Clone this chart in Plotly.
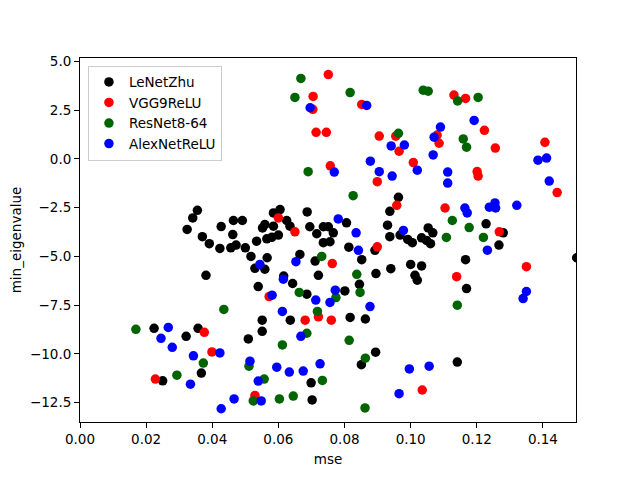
import plotly.graph_objects as go

# values (mse vs min_eigenvalue)
lenet_mse = [0.0355, 0.0341, 0.0324, 0.0370, 0.0391, 0.0423, 0.0456, 0.0472, 0.0462, 0.0427,
             0.0464, 0.0491, 0.0500, 0.0517, 0.0534, 0.0552, 0.0559, 0.0585, 0.0565, 0.0580,
             0.0600, 0.0585, 0.0605, 0.0625, 0.0635, 0.0566, 0.0529, 0.0559, 0.0381, 0.0539,
             0.0643, 0.0665, 0.0687, 0.0806, 0.0695, 0.0736, 0.0751, 0.0716, 0.0766, 0.0736,
             0.0756, 0.0813, 0.0892, 0.0963, 0.0937, 0.0930, 0.0937, 0.0968, 0.0991, 0.1005,
             0.0711, 0.0852, 0.0721, 0.0895, 0.0940, 0.1000, 0.0845, 0.0801, 0.0616, 0.0686,
             0.0551, 0.0636, 0.0551, 0.0509, 0.0817, 0.0863, 0.0894, 0.0851, 0.0699, 0.0702,
             0.0321, 0.0357, 0.0224, 0.0367, 0.0250, 0.1053, 0.1067, 0.1033, 0.1048, 0.1060,
             0.1228, 0.1280, 0.1267, 0.1166, 0.1033, 0.1013, 0.1020, 0.1169, 0.1502, 0.1141]
lenet_eig = [-2.64, -3.03, -3.62, -3.99, -4.35, -4.59, -4.56, -4.42, -3.88, -3.47,
             -3.16, -3.16, -4.56, -5.00, -4.22, -3.54, -3.37, -3.45, -4.10, -4.02,
             -3.91, -2.77, -2.60, -3.16, -3.45, -5.07, -5.61, -5.66, -5.97, -6.55,
             -6.39, -4.90, -2.72, -3.28, -3.48, -3.48, -3.48, -3.84, -3.79, -4.30,
             -4.25, -4.53, -4.69, -1.97, -2.69, -3.40, -3.99, -3.91, -4.13, -4.30,
             -5.24, -5.17, -5.97, -5.88, -5.63, -5.41, -6.43, -6.77, -6.01, -6.94,
             -8.27, -8.27, -8.84, -9.23, -8.13, -8.21, -9.91, -10.55, -11.48, -12.36,
             -9.10, -8.69, -8.69, -10.98, -11.38, -3.54, -3.79, -4.05, -4.18, -4.35,
             -3.33, -3.79, -4.42, -5.17, -5.49, -5.97, -6.22, -6.65, -5.07, -10.42]

vgg_mse = [0.0751, 0.0705, 0.0704, 0.0852, 0.0714, 0.0745, 0.0757, 0.0905, 0.0955, 0.0965,
           0.1008, 0.0899, 0.0958, 0.0600, 0.0650, 0.0899, 0.1131, 0.1166, 0.1223, 0.1080,
           0.1086, 0.1256, 0.1406, 0.1443, 0.1201, 0.1204, 0.1104, 0.1268, 0.1139, 0.1350,
           0.1035, 0.0572, 0.0763, 0.0721, 0.0681, 0.0760, 0.0376, 0.0399, 0.0228, 0.0529]
vgg_eig = [4.32, 3.20, 2.54, 2.79, 1.36, 1.36, -0.36, 1.17, 1.16, 0.39,
           -0.19, -1.17, -2.38, -3.03, -3.74, -4.51, 3.27, 3.10, 1.46, 1.22,
           0.80, 0.55, 0.85, -1.73, -0.65, -0.88, -2.52, -3.74, -6.04, -5.53,
           -11.85, -7.06, -5.37, -8.10, -8.27, -8.27, -8.89, -9.90, -11.29, -12.13]

resnet_mse = [0.0668, 0.0650, 0.0817, 0.0690, 0.0963, 0.0826, 0.1038, 0.1053, 0.1142, 0.1204,
              0.1159, 0.1169, 0.1126, 0.1177, 0.1108, 0.1220, 0.1141, 0.0731, 0.0837, 0.0847,
              0.0663, 0.0774, 0.0718, 0.0686, 0.0612, 0.0814, 0.0863, 0.0511, 0.0557, 0.0733,
              0.0524, 0.0603, 0.0645, 0.0862, 0.0435, 0.0169, 0.0373, 0.0293]
resnet_eig = [4.12, 3.15, 3.40, -0.66, 1.31, -1.89, 3.52, 3.47, 2.97, 3.15,
              1.02, 0.60, -3.16, -3.52, -4.03, -4.03, -7.50, -5.00, -5.92, -6.85,
              -6.85, -7.11, -7.82, -8.94, -9.54, -9.30, -10.22, -10.63, -11.29, -11.36,
              -12.41, -12.31, -12.16, -12.77, -7.72, -8.74, -10.47, -11.09]

alex_mse = [0.0696, 0.0867, 0.0769, 0.0941, 0.0981, 0.0878, 0.0905, 0.0944, 0.1020, 0.1192,
            0.1090, 0.1071, 0.1068, 0.1385, 0.1411, 0.1419, 0.1112, 0.1112, 0.1164, 0.1171,
            0.1238, 0.1255, 0.1257, 0.1321, 0.1232, 0.0978, 0.0781, 0.0835, 0.0842, 0.0544,
            0.0653, 0.0615, 0.0581, 0.0713, 0.0772, 0.0756, 0.0877, 0.0612, 0.0668, 0.0514,
            0.0595, 0.0633, 0.0675, 0.0726, 0.0539, 0.0548, 0.0466, 0.0427, 0.0996, 0.0965,
            0.1056, 0.1350, 0.1340, 0.0267, 0.0245, 0.0279, 0.0343, 0.0423, 0.0334]
alex_eig = [2.62, 2.74, -0.68, 0.66, 0.71, -0.12, -0.66, -0.88, -0.58, 1.97,
            1.63, 1.11, 0.20, -0.07, 0.04, -1.14, -0.68, -1.24, -2.52, -2.77,
            -2.48, -2.26, -2.52, -2.38, -4.68, -3.67, -3.08, -3.79, -4.69, -5.41,
            -5.27, -6.17, -6.99, -7.24, -6.73, -7.36, -7.57, -7.82, -9.10, -10.37,
            -10.68, -10.93, -10.88, -10.51, -11.39, -12.41, -12.31, -12.81, -10.77, -12.04,
            -10.63, -6.80, -7.16, -8.64, -9.20, -9.66, -10.10, -9.95, -11.55]

series = [
    ('LeNetZhu', lenet_mse, lenet_eig, 'black'),
    ('VGG9ReLU', vgg_mse, vgg_eig, 'red'),
    ('ResNet8-64', resnet_mse, resnet_eig, 'darkgreen'),
    ('AlexNetReLU', alex_mse, alex_eig, 'blue'),
]

x_ticks = [0.00, 0.02, 0.04, 0.06, 0.08, 0.10, 0.12, 0.14]
y_ticks = [5.0, 2.5, 0.0, -2.5, -5.0, -7.5, -10.0, -12.5]

fig = go.Figure()
for name, xs, ys, color in series:
    fig.add_trace(go.Scatter(
        x=xs, y=ys, mode='markers', name=name,
        marker=dict(color=color, size=9.5, line=dict(width=0)),
    ))

axis_common = dict(
    showline=True, linecolor='black', linewidth=1, mirror=True,
    ticks='outside', ticklen=5, tickwidth=1, tickcolor='black',
    showgrid=False, zeroline=False, automargin=False,
    tickfont=dict(size=13.5, color='black'),
)

# page body has an 8px margin, so the figure is 8px smaller and margins shifted
fig.update_layout(
    width=632, height=472,
    margin=dict(l=72, r=64, t=50, b=58),
    paper_bgcolor='white', plot_bgcolor='white',
    font=dict(family='DejaVu Sans', size=13.5, color='black'),
    xaxis=dict(range=[0, 0.15], tickvals=x_ticks, tickformat='.2f',
               title=dict(text='mse', font=dict(size=13.5), standoff=8), **axis_common),
    yaxis=dict(range=[-13.49, 5.17], tickvals=y_ticks, tickformat='.1f',
               title=dict(text='min_eigenvalue', font=dict(size=13.5), standoff=6), **axis_common),
    legend=dict(x=0.016, y=0.979, xanchor='left', yanchor='top',
                bgcolor='rgba(255,255,255,0.8)', bordercolor='#cccccc', borderwidth=1,
                font=dict(size=13.5), itemwidth=30),
    showlegend=True,
)

fig.write_html("out.html")
